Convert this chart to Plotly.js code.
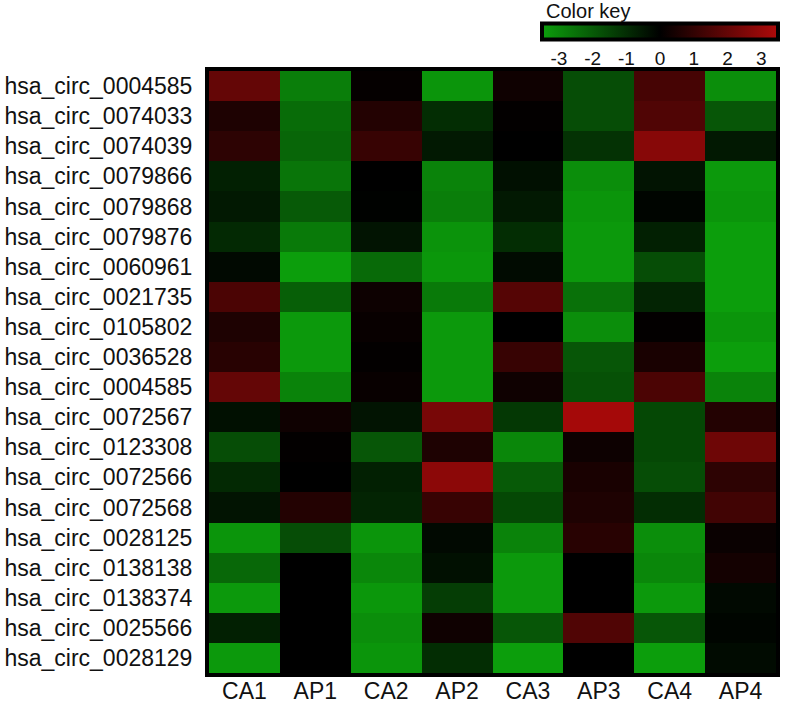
<!DOCTYPE html>
<html>
<head>
<meta charset="utf-8">
<script src="https://cdn.plot.ly/plotly-3.0.1.min.js"></script>
<style>
  html, body { margin: 0; padding: 0; background: #ffffff; }
  #chart { width: 785px; height: 720px; }
</style>
</head>
<body>
<div id="chart"></div>
<script>
// Row labels (top to bottom)
const rowLabels = [
  "hsa_circ_0004585", "hsa_circ_0074033", "hsa_circ_0074039", "hsa_circ_0079866",
  "hsa_circ_0079868", "hsa_circ_0079876", "hsa_circ_0060961", "hsa_circ_0021735",
  "hsa_circ_0105802", "hsa_circ_0036528", "hsa_circ_0004585", "hsa_circ_0072567",
  "hsa_circ_0123308", "hsa_circ_0072566", "hsa_circ_0072568", "hsa_circ_0028125",
  "hsa_circ_0138138", "hsa_circ_0138374", "hsa_circ_0025566", "hsa_circ_0028129"
];

// Column (sample) labels
const samples = ["CA1", "AP1", "CA2", "AP2", "CA3", "AP3", "CA4", "AP4"];

// Values per sample, one per row (top to bottom)
const CA1 = [2.0, 0.6, 0.9, -0.7, -0.55, -0.9, -0.2, 1.5, 0.6, 0.8, 2.0, -0.35, -1.7, -0.9, -0.45, -3.3, -2.3, -3.4, -0.7, -3.4];
const AP1 = [-2.8, -2.4, -2.25, -2.6, -2.0, -2.7, -3.5, -2.1, -3.4, -3.4, -2.9, 0.3, 0.05, 0, 0.7, -1.7, 0, 0, 0, 0];
const CA2 = [0.1, 0.7, 1.1, 0, -0.05, -0.45, -2.35, 0.25, 0.15, 0.05, 0.15, -0.45, -1.9, -0.7, -0.8, -3.3, -3.0, -3.35, -3.15, -3.3];
const AP2 = [-3.3, -1.0, -0.55, -2.9, -2.8, -3.25, -3.35, -2.7, -3.4, -3.4, -3.4, 2.4, 0.6, 2.8, 1.1, -0.2, -0.35, -1.35, 0.3, -1.0];
const CA3 = [0.3, 0.05, 0, -0.35, -0.55, -1.0, -0.25, 1.7, 0, 1.1, 0.3, -1.25, -3.0, -2.0, -1.6, -2.9, -3.4, -3.4, -1.9, -3.5];
const AP3 = [-1.7, -1.7, -1.1, -3.15, -3.3, -3.4, -3.4, -2.5, -3.15, -1.9, -1.8, 3.3, 0.25, 0.5, 0.6, 0.8, 0, 0, 1.6, 0];
const CA4 = [1.4, 1.6, 2.7, -0.45, -0.1, -0.7, -1.7, -0.8, 0.05, 0.5, 1.5, -1.6, -1.6, -1.7, -1.0, -3.15, -3.0, -3.4, -1.9, -3.5];
const AP4 = [-3.15, -1.9, -0.55, -3.4, -3.3, -3.5, -3.5, -3.5, -3.3, -3.5, -2.9, 0.7, 2.2, 0.9, 1.3, 0.2, 0.4, -0.2, -0.1, -0.25];

// Color key ticks
const keyTicks = [-3, -2, -1, 0, 1, 2, 3];

const columns = [CA1, AP1, CA2, AP2, CA3, AP3, CA4, AP4];
const rowIdx = rowLabels.map((_, i) => i);
const z = rowIdx.map(r => columns.map(col => col[r]));

const font = "Liberation Sans, Arial, sans-serif";

const trace = {
  type: "heatmap",
  x: samples,
  y: rowIdx,
  z: z,
  zmin: -3.5,
  zmax: 3.5,
  colorscale: [[0, "rgb(12,158,12)"], [0.5, "rgb(0,0,0)"], [1, "rgb(175,10,10)"]],
  hoverongaps: false,
  colorbar: {
    orientation: "h",
    lenmode: "pixels",
    len: 236,
    thickness: 16,
    x: 0.7955,
    xanchor: "center",
    y: 1.045,
    yanchor: "middle",
    xpad: 0,
    ypad: 0,
    outlinewidth: 4,
    outlinecolor: "#000",
    tickvals: keyTicks,
    ticktext: keyTicks.map(String),
    ticks: "",
    tickfont: { family: font, size: 19, color: "#111" }
  }
};

const layout = {
  width: 785,
  height: 720,
  margin: { l: 209, r: 7, t: 71, b: 47 },
  paper_bgcolor: "#ffffff",
  plot_bgcolor: "#000000",
  xaxis: {
    type: "category",
    showline: true, mirror: true, linewidth: 4, linecolor: "#000",
    showgrid: false, zeroline: false,
    ticks: "", ticklabelstandoff: -6,
    tickfont: { family: font, size: 23, color: "#111" }
  },
  yaxis: {
    autorange: "reversed",
    tickvals: rowIdx,
    ticktext: rowLabels,
    showline: true, mirror: true, linewidth: 4, linecolor: "#000",
    showgrid: false, zeroline: false,
    ticks: "outside", ticklen: 8, tickcolor: "rgba(0,0,0,0)",
    tickfont: { family: font, size: 23, color: "#111" }
  },
  annotations: [{
    text: "Color key",
    xref: "paper", yref: "paper",
    x: 0.5905, y: 1.1,
    xanchor: "left", yanchor: "middle",
    showarrow: false,
    font: { family: font, size: 20, color: "#111" }
  }],
  showlegend: false
};

Plotly.newPlot("chart", [trace], layout, { displayModeBar: false, staticPlot: true });
</script>
</body>
</html>
